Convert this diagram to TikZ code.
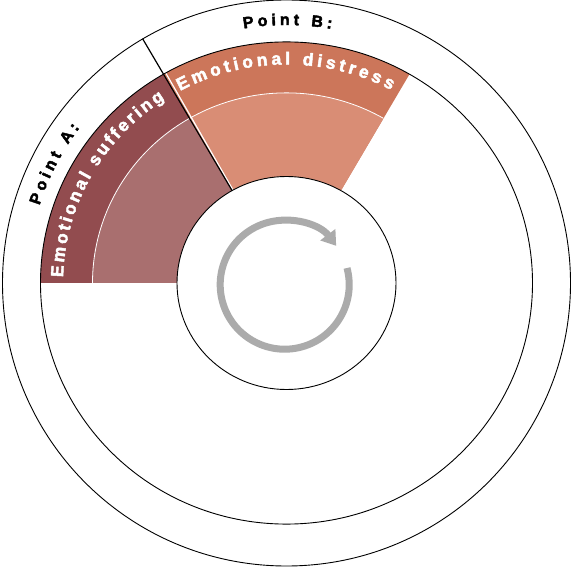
\documentclass[tikz,border=0pt]{standalone}
\usepackage{fontspec}
\newfontfamily\wheelfont{Liberation Sans}[BoldFeatures={FakeBold=2.6}]
\usetikzlibrary{arrows.meta,decorations.text}
\definecolor{sufferband}{RGB}{146,76,79}
\definecolor{sufferfill}{RGB}{169,111,111}
\definecolor{distressband}{RGB}{204,118,90}
\definecolor{distressfill}{RGB}{217,141,117}
\definecolor{arrowgray}{RGB}{171,171,171}
\newcommand\bandfont{\wheelfont\bfseries\fontsize{17.5}{20}\selectfont}
\newcommand\pointfont{\wheelfont\bfseries\fontsize{16}{19}\selectfont}
\tikzset{
    ring/.style={draw=black, line width=0.9pt},
    bandtext/.style={decorate, decoration={text along path, text align={fit to path},
        text color=white, text={|\bandfont|#1}}},
    pointtext/.style={decorate, decoration={text along path, text align={fit to path},
        text color=black, text={|\pointfont|#1}}},
    arrowring/.style={draw=arrowgray, line width=7pt, -{Triangle[length=14pt,width=18pt]}}
}
\begin{document}
\begin{tikzpicture}[x=1pt,y=1pt]
    \useasboundingbox (-286.5,-284) rectangle (285.5,283);
    \coordinate (c) at (0,0);
    \coordinate (rc) at (-1.8,-1.7);
    % outer ring
    \draw[ring] (c) ellipse [x radius=284, y radius=283];
    \begin{scope}[yscale=0.98]
        % point A sector
        \fill[sufferband] (180:100) -- (180:246) arc[start angle=180, end angle=120, radius=246] -- (120:100) -- cycle;
        \fill[sufferfill] (180:100) -- (180:194) arc[start angle=180, end angle=120, radius=194] -- (120:100) -- cycle;
        \draw[white, line width=0.8pt] (180:194) arc[start angle=180, end angle=120, radius=194];
        % point B sector
        \fill[distressband] (120:100) -- (120:246) arc[start angle=120, end angle=60, radius=246] -- (60:100) -- cycle;
        \fill[distressfill] (120:100) -- (120:194) arc[start angle=120, end angle=60, radius=194] -- (60:100) -- cycle;
        \draw[white, line width=0.8pt] (120:194) arc[start angle=120, end angle=60, radius=194];
        \draw[white, line width=1.2pt] (119.4:100) -- (119.4:246);
        \draw[ring] (c) circle[radius=246];
    \end{scope}
    \draw[ring, fill=white] (c) ellipse [x radius=109.5, y radius=106.5];
    \draw[line width=1.2pt] (120.5:107) -- (120.5:283.5);
    % labels
    \path[bandtext={Emotional suffering}] (178.5:223.5 and 219) arc[start angle=178.5, end angle=123, x radius=223.5, y radius=219];
    \path[bandtext={Emotional distress}] (118.5:223 and 218.5) arc[start angle=118.5, end angle=62, x radius=223, y radius=218.5];
    \path[pointtext={Point A:}] (162.5:259 and 258) arc[start angle=162.5, end angle=143, x radius=259, y radius=258];
    \path[pointtext={Point B:}] (99.5:259 and 258) arc[start angle=99.5, end angle=80, x radius=259, y radius=258];
    % cycle arrow
    \draw[arrowring] (rc) ++(15:64.5) arc[start angle=15, end angle=-323, radius=64.5];
\end{tikzpicture}
\end{document}
